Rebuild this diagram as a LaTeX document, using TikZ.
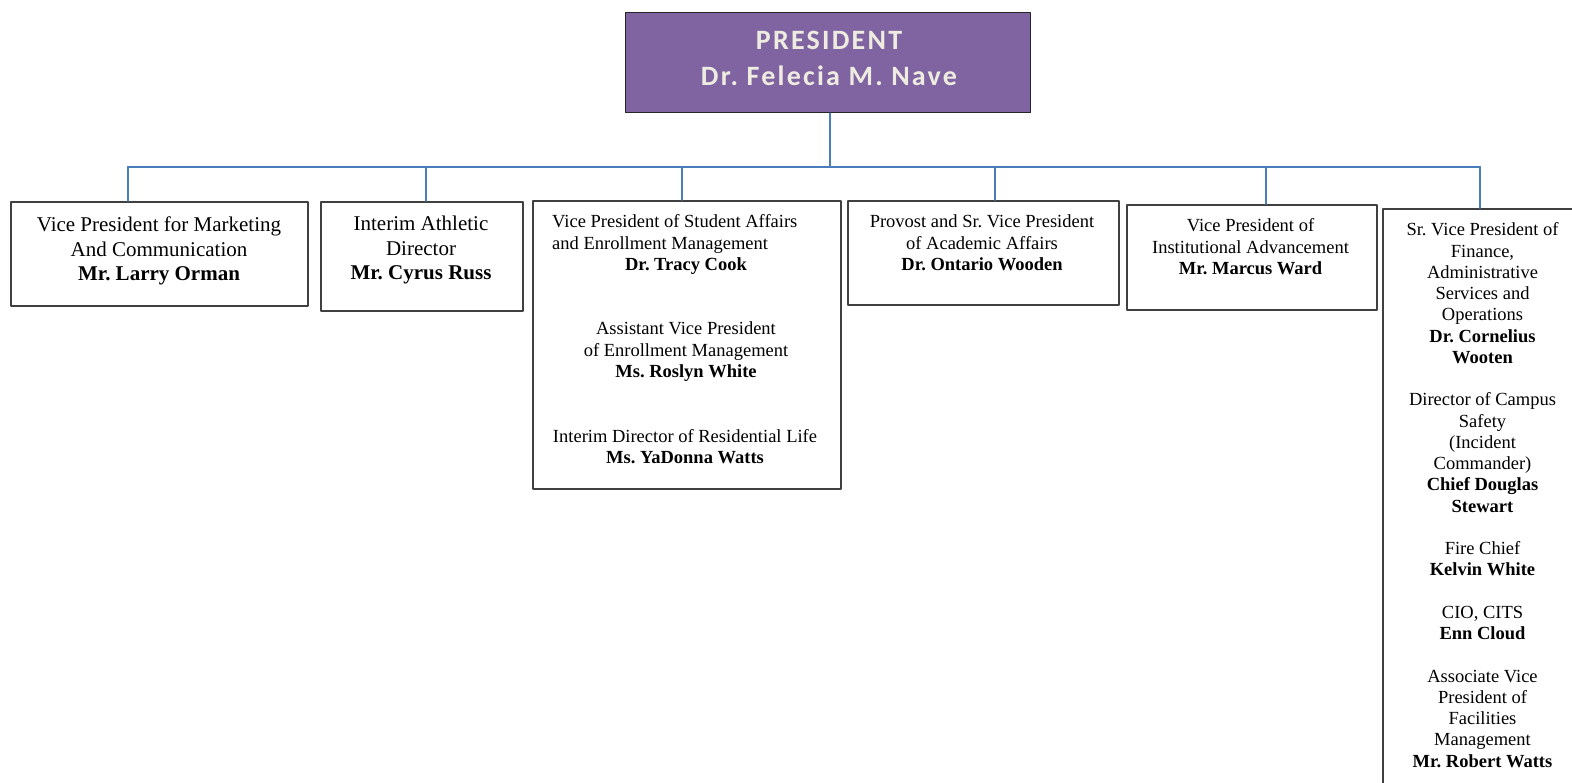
\documentclass[tikz,border=0pt]{standalone}
\usepackage{fontspec}
\setmainfont{Liberation Serif}
\newfontfamily\presfont[LetterSpace=8]{Carlito}
\usetikzlibrary{positioning}
\frenchspacing
\definecolor{linkblue}{HTML}{4A7EBB}
\definecolor{boxgray}{HTML}{404040}
\definecolor{prespurple}{HTML}{8064A2}
\definecolor{prestext}{HTML}{EEECE1}
\tikzset{
  orgbox/.style={draw=boxgray, line width=2pt, anchor=north west, inner sep=0pt},
  link/.style={draw=linkblue, line width=2pt},
  bigtxt/.style={font=\fontsize{21}{24.5}\selectfont, align=center, inner sep=0pt, anchor=base},
  txt/.style={font=\fontsize{18.5}{21.4}\selectfont, align=center, inner sep=0pt, anchor=base},
}
\begin{document}
\begin{tikzpicture}[x=1pt,y=-1pt,line cap=round,line join=round]
\useasboundingbox (0,0) rectangle (1572,783);
\clip (0,0) rectangle (1572,783);
% president
\node[draw=black!85, fill=prespurple, line width=1.4pt, anchor=north west, inner sep=0pt,
  minimum width=405, minimum height=100] (pres) at (625,12) {};
\node[font=\presfont\bfseries\fontsize{28}{36}\selectfont, text=prestext, align=center,
  anchor=base, inner sep=0pt] (prestxt) at (829,86) {PRESIDENT\\Dr. Felecia M. Nave};
% boxes
\node[orgbox, minimum width=297, minimum height=104] (vpmc) at (10,201) {};
\node[orgbox, minimum width=202, minimum height=109] (ath) at (320,201) {};
\node[orgbox, minimum width=308, minimum height=288] (vpsa) at (532,200) {};
\node[orgbox, minimum width=271, minimum height=104] (prov) at (847,200) {};
\node[orgbox, minimum width=250, minimum height=105] (vpia) at (1126,204) {};
\node[orgbox, minimum width=201, minimum height=620] (svpf) at (1382,208) {};
% texts (base = last line)
\node[bigtxt] (vpmctxt) at (159,281) {Vice President for Marketing\\And Communication\\\textbf{Mr. Larry Orman}};
\node[bigtxt] (athtxt) at (421,280) {Interim Athletic\\Director\\\textbf{Mr. Cyrus Russ}};
\node[txt, align=left, anchor=base west] (vpsatxt) at (552,249.4) {Vice President of Student Affairs\\and Enrollment Management};
\node[txt] (cook) at (686,271) {\textbf{Dr. Tracy Cook}};
\node[txt] (avptxt) at (686,377.8) {Assistant Vice President\\of Enrollment Management\\\textbf{Ms. Roslyn White}};
\node[txt] (restxt) at (685,463.4) {Interim Director of Residential Life\\\textbf{Ms. YaDonna Watts}};
\node[txt] (provtxt) at (982,270.5) {Provost and Sr. Vice President\\of Academic Affairs\\\textbf{Dr. Ontario Wooden}};
\node[txt] (vpiatxt) at (1250.5,274.5) {Vice President of\\Institutional Advancement\\\textbf{Mr. Marcus Ward}};
\node[txt, font=\fontsize{18.5}{21.25}\selectfont] (svpftxt) at (1482.5,767) {Sr. Vice President of\\Finance,\\Administrative\\Services and\\Operations\\\textbf{Dr. Cornelius}\\\textbf{Wooten}\\[21.25pt]
  Director of Campus\\Safety\\(Incident\\Commander)\\\textbf{Chief Douglas}\\\textbf{Stewart}\\[21.25pt]
  Fire Chief\\\textbf{Kelvin White}\\[21.25pt]
  CIO, CITS\\\textbf{Enn Cloud}\\[21.25pt]
  Associate Vice\\President of\\Facilities\\Management\\\textbf{Mr. Robert Watts}};
% connectors
\path
(829.5,167) coordinate (bus)
(128,167) coordinate (d1)
(426,167) coordinate (d2)
(682,167) coordinate (d3)
(995,167) coordinate (d4)
(1266,167) coordinate (d5)
(1480,167) coordinate (d6)
;
\draw[link] (bus |- pres.south) -- (bus);
\draw[link] (d1) -- (d6);
\foreach \d/\b in {d1/vpmc,d2/ath,d3/vpsa,d4/prov,d5/vpia,d6/svpf}
  \draw[link] (\d) -- (\d |- \b.north);
\end{tikzpicture}
\end{document}
